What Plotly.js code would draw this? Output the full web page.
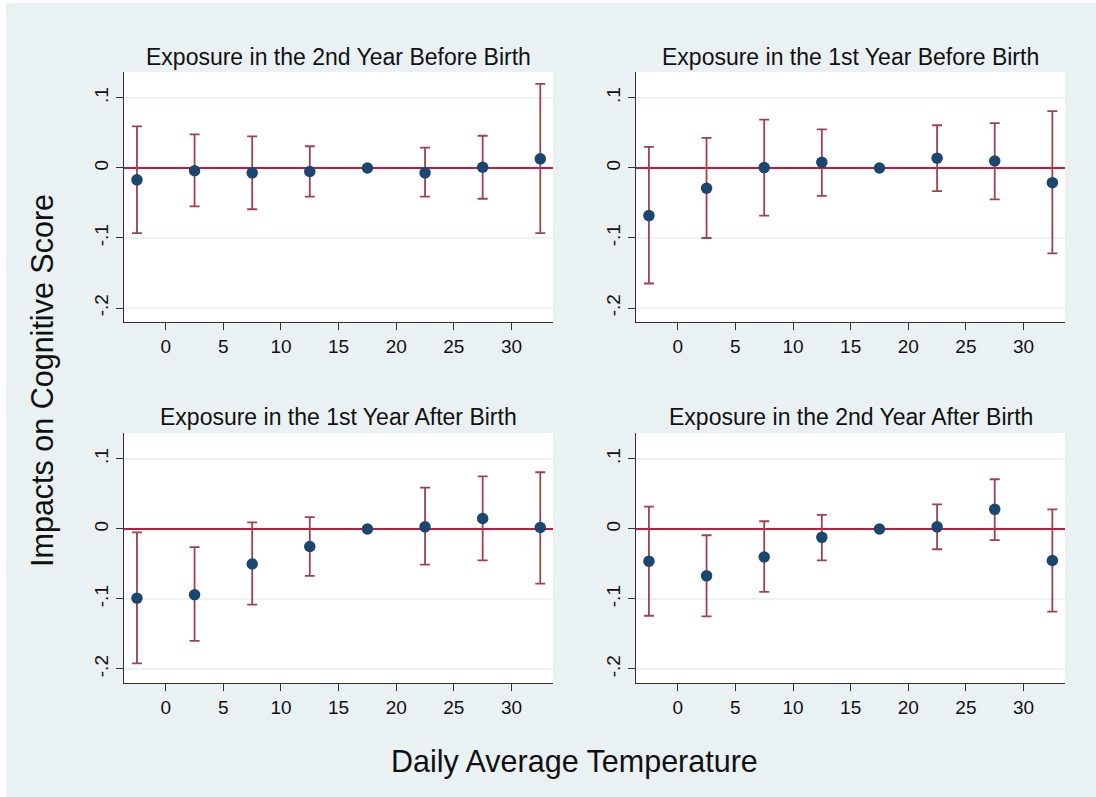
<!DOCTYPE html>
<html>
<head>
<meta charset="utf-8">
<script src="https://cdn.plot.ly/plotly-3.0.1.min.js"></script>
<style>
  body { margin: 0; background: #ffffff; }
  #wrap { padding-left: 6px; padding-top: 3px; }
  #tempPlot { width: 1090px; height: 794px; }
</style>
</head>
<body>
<div id="wrap"><div id="tempPlot"></div></div>
<script>
// temperature bins (bin midpoints)
let tempBins = [-2.5, 2.5, 7.5, 12.5, 17.5, 22.5, 27.5, 32.5];

let panelTitles = [
  "Exposure in the 2nd Year Before Birth",
  "Exposure in the 1st Year Before Birth",
  "Exposure in the 1st Year After Birth",
  "Exposure in the 2nd Year After Birth",
];

// point estimates, 15-20 is the reference bin
let coef_2ndBefore = [-0.017, -0.004, -0.007, -0.005, 0, -0.007, 0.001, 0.013];
let coef_1stBefore = [-0.068, -0.029, 0.0005, 0.008, 0, 0.014, 0.01, -0.021];
let coef_1stAfter = [-0.099, -0.094, -0.05, -0.025, 0, 0.003, 0.015, 0.002];
let coef_2ndAfter = [-0.046, -0.067, -0.04, -0.012, 0, 0.003, 0.028, -0.045];

// confidence intervals
let ciLow_2ndBefore = [-0.093, -0.055, -0.059, -0.041, null, -0.041, -0.044, -0.093];
let ciHigh_2ndBefore = [0.0595, 0.048, 0.045, 0.031, null, 0.029, 0.046, 0.12];
let ciLow_1stBefore = [-0.165, -0.1, -0.068, -0.04, null, -0.033, -0.045, -0.122];
let ciHigh_1stBefore = [0.03, 0.043, 0.069, 0.055, null, 0.061, 0.064, 0.081];
let ciLow_1stAfter = [-0.192, -0.16, -0.108, -0.067, null, -0.051, -0.045, -0.078];
let ciHigh_1stAfter = [-0.005, -0.026, 0.0095, 0.017, null, 0.059, 0.075, 0.081];
let ciLow_2ndAfter = [-0.124, -0.125, -0.09, -0.045, null, -0.029, -0.016, -0.118];
let ciHigh_2ndAfter = [0.032, -0.009, 0.011, 0.02, null, 0.035, 0.071, 0.028];

let xTicks = [0, 5, 10, 15, 20, 25, 30];
let yTicks = [-0.2, -0.1, 0, 0.1];
let yTickText = ["-.2", "-.1", "0", ".1"];

let fontFam = "Liberation Sans, Arial, sans-serif";
let bgColor = "#eaf1f3";

function ciTrace(coef, lo, hi, axNum) {
  let plus = coef.map((c, i) => (hi[i] === null ? null : hi[i] - c));
  let minus = coef.map((c, i) => (lo[i] === null ? null : c - lo[i]));
  let suffix = axNum === 1 ? "" : String(axNum);
  return {
    type: "scatter",
    mode: "markers",
    x: tempBins,
    y: coef,
    xaxis: "x" + suffix,
    yaxis: "y" + suffix,
    marker: { color: "#1a476f", size: 11.5 },
    error_y: {
      type: "data",
      symmetric: false,
      array: plus,
      arrayminus: minus,
      color: "#a3414a",
      thickness: 1.8,
      width: 5,
    },
    showlegend: false,
    hoverinfo: "x+y",
  };
}

function xAxis(domain, anchor) {
  return {
    domain: domain,
    anchor: anchor,
    range: [-3.62, 33.6],
    tickvals: xTicks,
    ticks: "outside",
    ticklen: 7,
    tickcolor: "#333333",
    showline: true,
    linecolor: "#333333",
    linewidth: 1.2,
    showgrid: false,
    zeroline: false,
    tickfont: { family: fontFam, size: 19, color: "#111111" },
  };
}

function yAxis(domain, anchor) {
  return {
    domain: domain,
    anchor: anchor,
    range: [-0.22, 0.137],
    tickvals: yTicks,
    ticktext: yTickText,
    tickangle: -90,
    ticks: "outside",
    ticklen: 7,
    tickcolor: "#333333",
    showline: true,
    linecolor: "#333333",
    linewidth: 1.2,
    showgrid: true,
    gridcolor: "#edf3f5",
    gridwidth: 1.5,
    zeroline: true,
    zerolinecolor: "#c8173d",
    zerolinewidth: 2,
    tickfont: { family: fontFam, size: 19, color: "#111111" },
  };
}

let colLeft = [0.1083, 0.5018];
let colRight = [0.578, 0.9716];
let rowTop = [0.5982, 0.9131];
let rowBottom = [0.1436, 0.4584];

let data = [
  ciTrace(coef_2ndBefore, ciLow_2ndBefore, ciHigh_2ndBefore, 1),
  ciTrace(coef_1stBefore, ciLow_1stBefore, ciHigh_1stBefore, 2),
  ciTrace(coef_1stAfter, ciLow_1stAfter, ciHigh_1stAfter, 3),
  ciTrace(coef_2ndAfter, ciLow_2ndAfter, ciHigh_2ndAfter, 4),
];

let titleFont = { family: fontFam, size: 23, color: "#111111" };

let layout = {
  width: 1090,
  height: 794,
  margin: { l: 0, r: 0, t: 0, b: 0 },
  paper_bgcolor: bgColor,
  plot_bgcolor: "#ffffff",
  showlegend: false,
  xaxis: xAxis(colLeft, "y"),
  yaxis: yAxis(rowTop, "x"),
  xaxis2: xAxis(colRight, "y2"),
  yaxis2: yAxis(rowTop, "x2"),
  xaxis3: xAxis(colLeft, "y3"),
  yaxis3: yAxis(rowBottom, "x3"),
  xaxis4: xAxis(colRight, "y4"),
  yaxis4: yAxis(rowBottom, "x4"),
  annotations: [
    { text: panelTitles[0], x: 0.305, y: 0.932, xref: "paper", yref: "paper", showarrow: false, xanchor: "center", yanchor: "middle", font: titleFont },
    { text: panelTitles[1], x: 0.7748, y: 0.932, xref: "paper", yref: "paper", showarrow: false, xanchor: "center", yanchor: "middle", font: titleFont },
    { text: panelTitles[2], x: 0.305, y: 0.4786, xref: "paper", yref: "paper", showarrow: false, xanchor: "center", yanchor: "middle", font: titleFont },
    { text: panelTitles[3], x: 0.7748, y: 0.4786, xref: "paper", yref: "paper", showarrow: false, xanchor: "center", yanchor: "middle", font: titleFont },
    // shared axis titles
    {
      text: "Impacts on Cognitive Score",
      x: 0.0339, y: 0.5252, xref: "paper", yref: "paper",
      showarrow: false, textangle: -90, xanchor: "center", yanchor: "middle",
      font: { family: fontFam, size: 30.5, color: "#111111" },
    },
    {
      text: "Daily Average Temperature",
      x: 0.522, y: 0.0441, xref: "paper", yref: "paper",
      showarrow: false, xanchor: "center", yanchor: "middle",
      font: { family: fontFam, size: 30.5, color: "#111111" },
    },
  ],
};

let config = { displayModeBar: false, responsive: false };

Plotly.newPlot("tempPlot", data, layout, config);
</script>
</body>
</html>
